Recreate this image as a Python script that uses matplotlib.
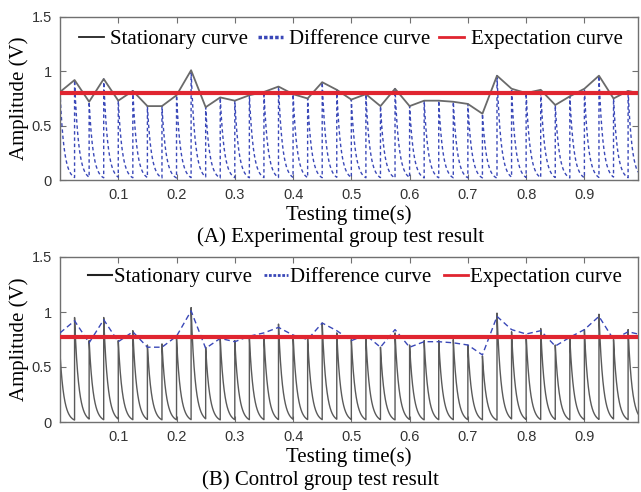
import numpy as np
import matplotlib
matplotlib.use("Agg")
import matplotlib.pyplot as plt

# ---------------- data ----------------
pulse_period = 0.025   # s between pulses
# stationary / envelope values at each pulse (t = 0, 0.025, ..., 0.975)
envelope_peaks = [0.81, 0.92, 0.72, 0.93, 0.73, 0.82, 0.68, 0.68, 0.78, 1.01,
                  0.67, 0.76, 0.73, 0.78, 0.81, 0.86, 0.79, 0.75, 0.90, 0.83,
                  0.74, 0.79, 0.68, 0.84, 0.68, 0.73, 0.73, 0.72, 0.70, 0.61,
                  0.96, 0.84, 0.80, 0.83, 0.69, 0.77, 0.84, 0.96, 0.75, 0.82]
envelope_end = 0.80    # value where the envelope leaves the right edge
# control-group pulse peaks (t = 0, 0.025, ..., 0.975)
control_peaks = [0.62, 0.95, 0.74, 0.95, 0.74, 0.83, 0.70, 0.71, 0.76, 1.04,
                 0.68, 0.76, 0.74, 0.77, 0.79, 0.89, 0.79, 0.76, 0.90, 0.81,
                 0.75, 0.77, 0.68, 0.81, 0.70, 0.74, 0.74, 0.75, 0.70, 0.60,
                 0.99, 0.82, 0.79, 0.85, 0.70, 0.76, 0.84, 0.98, 0.75, 0.84]
expectation_exp = 0.80
expectation_ctrl = 0.77
decay_tau = 0.007
x_max = 0.992

x_ticks = [0.1, 0.2, 0.3, 0.4, 0.5, 0.6, 0.7, 0.8, 0.9]
x_ticklabels = ["0.1", "0.2", "0.3", "0.4", "0.5", "0.6", "0.7", "0.8", "0.9"]
y_ticks = [0, 0.5, 1, 1.5]
y_ticklabels = ["0", "0.5", "1", "1.5"]

labels = ["Stationary curve", "Difference curve", "Expectation curve"]
xlabel = "Testing time(s)"
ylabel = "Amplitude (V)"
caption_a = "(A) Experimental group test result"
caption_b = "(B) Control group test result"

# ---------------- helpers ----------------
def pulse_train(peaks):
    ts, vs = [], []
    for k, p in enumerate(peaks):
        t0 = k * pulse_period
        t1 = min((k + 1) * pulse_period, x_max)
        tt = np.linspace(t0, t1, 60)
        ts.append(tt)
        vs.append(p * np.exp(-(tt - t0) / decay_tau))
    return np.concatenate(ts), np.concatenate(vs)

env_t = np.append(np.arange(len(envelope_peaks)) * pulse_period, x_max)
env_v = np.append(envelope_peaks, envelope_end)

serif = "Liberation Serif"
sans = "Liberation Sans"
blue = "#3a48b8"
red = "#e02530"
gray = "#6a6a6a"
spine_c = "#707070"

fig = plt.figure(figsize=(6.41, 4.92), dpi=100)
W, H = 641, 492
def rect(l, t, r, b):
    return [l / W, 1 - b / H, (r - l) / W, (b - t) / H]

ax1 = fig.add_axes(rect(60, 17, 638, 180))
ax2 = fig.add_axes(rect(60, 257, 638, 422))

def style(ax):
    ax.set_xlim(0, x_max)
    ax.set_ylim(0, 1.5)
    ax.set_xticks(x_ticks)
    ax.set_xticklabels(x_ticklabels, fontfamily=sans, fontsize=10.5, color="#333333")
    ax.set_yticks(y_ticks)
    ax.set_yticklabels(y_ticklabels, fontfamily=sans, fontsize=10.5, color="#333333")
    ax.tick_params(direction="in", length=4, width=0.8, color=spine_c,
                   top=True, right=True, pad=6)
    for s in ax.spines.values():
        s.set_color(spine_c)
        s.set_linewidth(1.0)
    ax.set_ylabel(ylabel, fontfamily=serif, fontsize=15, labelpad=2)
    ax.set_xlabel(xlabel, fontfamily=serif, fontsize=15, labelpad=2)

# ---- panel A ----
pt, pv = pulse_train(envelope_peaks)
ax1.plot(pt, pv, color=blue, lw=1.0, ls=(0, (2.5, 2)), zorder=2)
ax1.plot(env_t, env_v, color=gray, lw=1.3, zorder=3)
ax1.axhline(expectation_exp, color=red, lw=3, zorder=4)
style(ax1)
h1 = [plt.Line2D([], [], color="#222222", lw=1.3),
      plt.Line2D([], [], color=blue, lw=2.5, ls=(0, (1, 0.6))),
      plt.Line2D([], [], color=red, lw=2)]
ax1.legend(h1, labels, loc="upper center", bbox_to_anchor=(0.503, 1.0), ncol=3,
           frameon=False, prop={"family": serif, "size": 15},
           handlelength=1.2, handletextpad=0.3, columnspacing=0.45,
           borderaxespad=0.2)

# ---- panel B ----
ct, cv = pulse_train(control_peaks)
ax2.plot(ct, cv, color="#5a5a5a", lw=1.0, zorder=2)
ax2.plot(env_t, env_v, color=blue, lw=1.0, ls=(0, (4, 2.5)), zorder=3)
ax2.axhline(expectation_ctrl, color=red, lw=3, zorder=4)
style(ax2)
h2 = [plt.Line2D([], [], color="#222222", lw=1.5),
      plt.Line2D([], [], color=blue, lw=2.0, ls=(0, (1, 0.6))),
      plt.Line2D([], [], color=red, lw=2)]
ax2.legend(h2, labels, loc="upper center", bbox_to_anchor=(0.51, 1.0), ncol=3,
           frameon=False, prop={"family": serif, "size": 15},
           handlelength=1.15, handletextpad=0.1, columnspacing=0.6,
           borderaxespad=0.1)

fig.text(341 / W, 1 - 237 / H, caption_a, ha="center", va="center",
         fontfamily=serif, fontsize=15)
fig.text(320 / W, 1 - 480 / H, caption_b, ha="center", va="center",
         fontfamily=serif, fontsize=15)

fig.savefig("out.png", dpi=100)
